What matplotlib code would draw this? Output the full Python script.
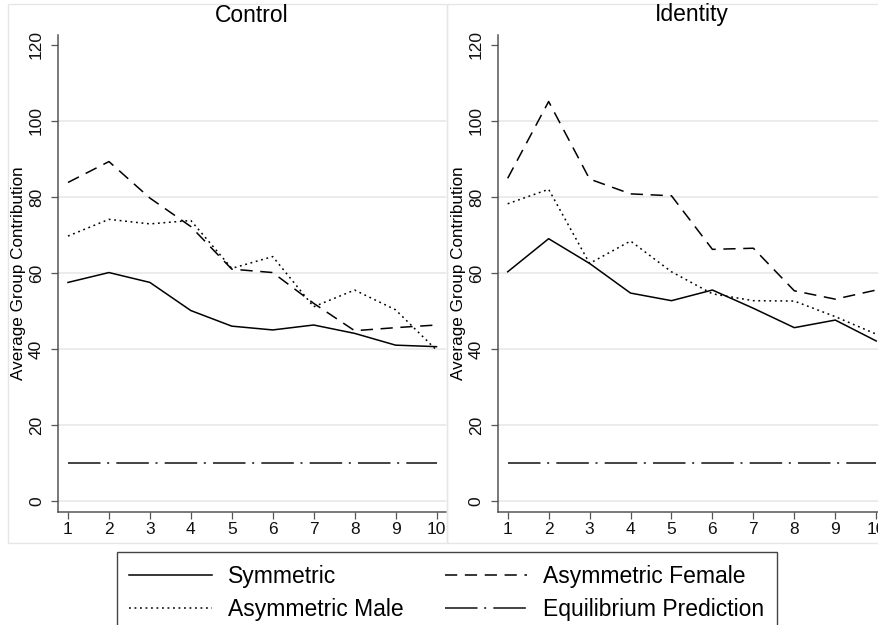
import matplotlib.pyplot as plt
from matplotlib.patches import Rectangle

plt.rcParams['font.family'] = ['Liberation Sans', 'DejaVu Sans']

# Dados (contribuicao media do grupo por periodo)
periods = [1, 2, 3, 4, 5, 6, 7, 8, 9, 10]

control_sym = [57.5, 60.1, 57.5, 50.1, 46.0, 45.0, 46.3, 44.1, 41.0, 40.6]
control_female = [83.8, 89.3, 79.7, 72.2, 61.0, 60.1, 52.0, 44.8, 45.6, 46.3]
control_male = [69.7, 74.1, 72.9, 73.8, 61.2, 64.3, 51.1, 55.5, 50.3, 39.7]

identity_sym = [60.3, 69.0, 62.5, 54.7, 52.7, 55.5, 50.7, 45.6, 47.6, 42.1]
identity_female = [84.9, 105.1, 84.7, 80.8, 80.3, 66.2, 66.5, 55.3, 53.1, 55.5]
identity_male = [78.2, 82.0, 62.5, 68.4, 60.3, 54.5, 52.7, 52.6, 48.5, 43.9]

equilibrium = [10, 10, 10, 10, 10, 10, 10, 10, 10, 10]

titles = ['Control', 'Identity']
y_ticks = [0, 20, 40, 60, 80, 100, 120]
grid_values = [0, 20, 40, 60, 80, 100]
labels = ['Symmetric', 'Asymmetric Male', 'Asymmetric Female', 'Equilibrium Prediction']

panels = [
    (control_sym, control_male, control_female),
    (identity_sym, identity_male, identity_female),
]

W, H = 879.0, 625.0
fig = plt.figure(figsize=(8.79, 6.25), dpi=100)

# Molduras cinza claro de cada painel
fig.add_artist(Rectangle((8 / W, 1 - 543 / H), 439 / W, 539 / H, transform=fig.transFigure,
                         fill=False, edgecolor='#e6e6e6', linewidth=1))
fig.add_artist(Rectangle((447 / W, 1 - 543 / H), 460 / W, 539 / H, transform=fig.transFigure,
                         fill=False, edgecolor='#e6e6e6', linewidth=1))

lefts = [58, 497.7]
handles = []
for i in range(2):
    ax = fig.add_axes([lefts[i] / W, 1 - 512 / H, 388 / W, 477 / H])
    ax.set_facecolor('none')
    sym, male, female = panels[i]

    for g in grid_values:
        ax.axhline(g, color='#e8e8e8', linewidth=1.2, zorder=0)

    l1, = ax.plot(periods, sym, color='black', linewidth=1.1)
    l2, = ax.plot(periods, male, color='black', linewidth=1.1, dashes=(1.2, 2.4))
    l3, = ax.plot(periods, female, color='black', linewidth=1.1, dashes=(8, 5))
    l4, = ax.plot(periods, equilibrium, color='#222222', linewidth=1.2, dashes=(19.5, 4, 1.2, 4.3))
    handles = [l1, l2, l3, l4]

    ax.set_xlim(0.756, 10.232)
    ax.set_ylim(-2.9, 122.6)
    ax.set_xticks(periods)
    ax.set_yticks(y_ticks)
    ax.set_yticklabels([str(v) for v in y_ticks], rotation=90, va='center')

    for s in ['top', 'right']:
        ax.spines[s].set_visible(False)
    for s in ['left', 'bottom']:
        ax.spines[s].set_color('#555555')
        ax.spines[s].set_linewidth(1.1)

    ax.tick_params(axis='both', direction='out', length=5, width=0.9, color='#555555',
                   labelsize=12.5, labelcolor='#111111')
    ax.tick_params(axis='y', pad=5)
    ax.tick_params(axis='x', pad=2.5)

    ax.set_ylabel('Average Group Contribution', fontsize=12.3, labelpad=2)
    fig.text((lefts[i] + 194) / W, 1 - 15 / H, titles[i], ha='center', va='center', fontsize=16.5)

leg = fig.legend(handles, labels, loc='upper center', bbox_to_anchor=(447 / W, 1 - 552 / H),
                 borderaxespad=0, ncol=2, fontsize=16.5, handlelength=3.6, handletextpad=0.7,
                 columnspacing=1.8, labelspacing=0.45, borderpad=0.55, fancybox=False, framealpha=1)
leg.get_frame().set_edgecolor('#444444')
leg.get_frame().set_linewidth(1)

plt.savefig('out.png', dpi=100)
